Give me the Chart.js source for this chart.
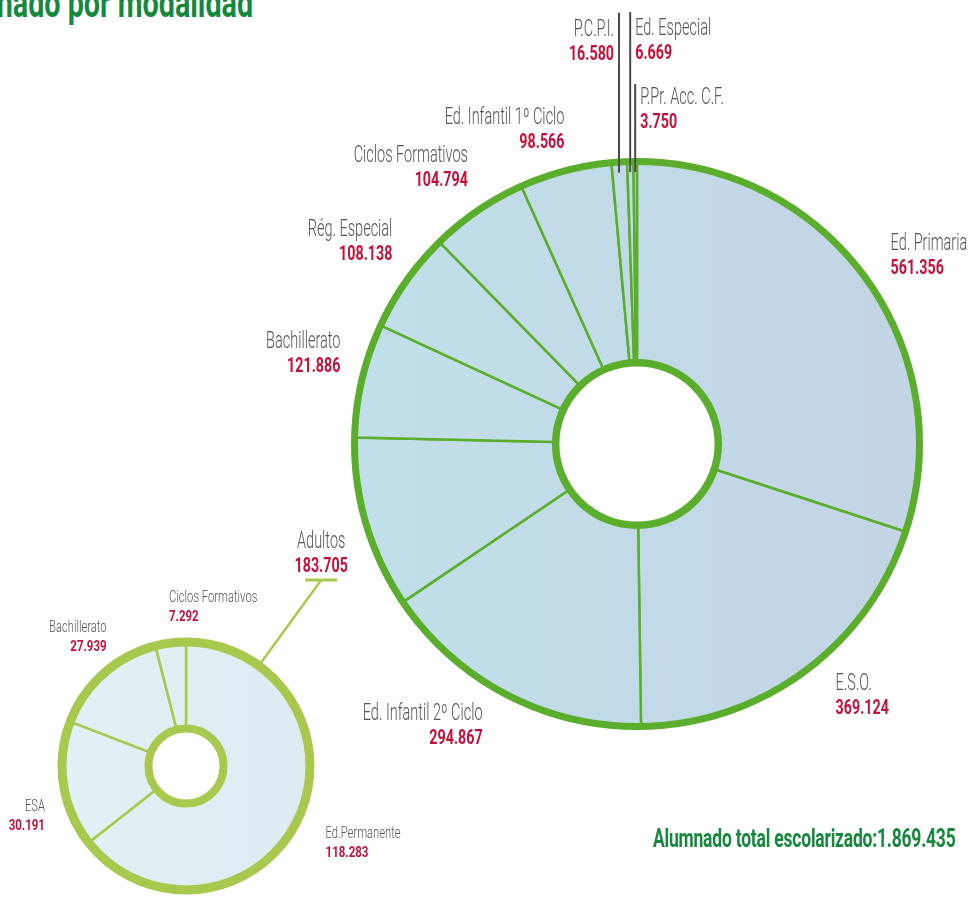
<!DOCTYPE html>
<html>
<head>
<meta charset="utf-8">
<script src="https://cdn.jsdelivr.net/npm/chart.js@4.4.1/dist/chart.umd.min.js"></script>
<style>
  body { margin: 0; background: #fff; width: 969px; height: 898px; overflow: hidden; position: relative;
         font-family: Roboto, sans-serif; }
  canvas { position: absolute; left: 0; top: 0; }
  #title { position: absolute; right: 716px; top: -17px; color: #16883d; font-weight: bold; font-size: 41px;
           line-height: 41px; white-space: nowrap; transform: scaleX(0.7); transform-origin: right top; }
  #total { position: absolute; left: 653px; top: 826px; color: #16883d; font-weight: bold; font-size: 25px;
           line-height: 25px; white-space: nowrap; transform: scaleX(0.7); transform-origin: left top;
           letter-spacing: -0.3px; }
</style>
</head>
<body>
<div id="title">Alumnado por modalidad</div>
<canvas id="grande" width="969" height="898"></canvas>
<canvas id="adultos" width="969" height="898"></canvas>
<div id="total"></div>
<script>
// datos
const modalidades = ["Ed. Primaria", "E.S.O.", "Ed. Infantil 2º Ciclo", "Adultos", "Bachillerato", "Rég. Especial",
                     "Ciclos Formativos", "Ed. Infantil 1º Ciclo", "P.C.P.I.", "Ed. Especial", "P.Pr. Acc. C.F."];
const alumnos = [561356, 369124, 294867, 183705, 121886, 108138, 104794, 98566, 16580, 6669, 3750];

const tiposAdultos = ["Ed.Permanente", "ESA", "Bachillerato", "Ciclos Formativos"];
const alumnosAdultos = [118283, 30191, 27939, 7292];

// label placement: offset of the name baseline from the arc's outer point, alignment, optional leader line
const etiquetasGrande = [
    { dx: 22, dy: -26, align: "left" },
    { dx: 29, dy: 16, align: "left" },
    { dx: -22, dy: 22, align: "right" },
    null, // Adultos goes with the small chart
    { dx: -18, dy: -31, align: "right" },
    { dx: -11, dy: -43, align: "right" },
    { dx: -8, dy: -46, align: "right" },
    { dx: 0, dy: -43, align: "right" },
    { dx: -5, dy: -123, align: "right", leader: -146 },
    { dx: 5, dy: -123, align: "left", leader: -146 },
    { dx: 5, dy: -54, align: "left", leader: -74 }
];
const etiquetasAdultos = [
    { dx: 24, dy: 16, align: "left" },
    { dx: -14, dy: 26, align: "right" },
    { dx: 6, dy: -38, align: "right" },
    { dx: -1, dy: -36, align: "left" }
];

function formato(n) {
    return String(n).replace(/\B(?=(\d{3})+(?!\d))/g, ".");
}

function gradiente(chart, c1, c2) {
    const area = chart.chartArea;
    if (!area) return c1;
    const g = chart.ctx.createLinearGradient(area.left, 0, area.right, 0);
    g.addColorStop(0, c1);
    g.addColorStop(1, c2);
    return g;
}

function puntoArco(arc, r) {
    const p = arc.getProps(["x", "y", "startAngle", "endAngle"], true);
    const mid = (p.startAngle + p.endAngle) / 2;
    return { x: p.x + r * Math.cos(mid), y: p.y + r * Math.sin(mid) };
}

// condensed text: the installed fonts have no narrow cut, so squeeze horizontally
function texto(ctx, str, x, y, align, font, sx, color) {
    ctx.save();
    ctx.translate(x, y);
    ctx.scale(sx, 1);
    ctx.font = font;
    ctx.textAlign = align;
    ctx.textBaseline = "alphabetic";
    ctx.fillStyle = color;
    ctx.fillText(str, 0, 0);
    ctx.restore();
}

// draws the thick rings, the labels and the leader lines
function pluginEtiquetas(cfg) {
    return {
        id: "etiquetas",
        afterDatasetsDraw(chart) {
            const ctx = chart.ctx;
            const meta = chart.getDatasetMeta(0);
            const a0 = meta.data[0].getProps(["x", "y", "outerRadius", "innerRadius"], true);
            ctx.save();
            ctx.strokeStyle = cfg.ring;
            ctx.lineWidth = cfg.outerWidth;
            ctx.beginPath();
            ctx.arc(a0.x, a0.y, a0.outerRadius, 0, Math.PI * 2);
            ctx.stroke();
            ctx.lineWidth = cfg.innerWidth;
            ctx.beginPath();
            ctx.arc(a0.x, a0.y, a0.innerRadius, 0, Math.PI * 2);
            ctx.stroke();

            const edge = a0.outerRadius + cfg.outerWidth / 2;
            const labels = chart.data.labels;
            const values = chart.data.datasets[0].data;
            for (let i = 0; i < labels.length; i++) {
                const lay = cfg.layout[i];
                if (!lay) continue;
                const p = puntoArco(meta.data[i], edge);
                if (lay.leader) {
                    ctx.strokeStyle = "#4a4a4a";
                    ctx.lineWidth = 2;
                    ctx.beginPath();
                    ctx.moveTo(p.x, p.y + 14);
                    ctx.lineTo(p.x, p.y + lay.leader);
                    ctx.stroke();
                }
                texto(ctx, labels[i], p.x + lay.dx, p.y + lay.dy, lay.align, cfg.nameFont, cfg.nameScale, "#555555");
                texto(ctx, formato(values[i]), p.x + lay.dx, p.y + lay.dy + cfg.gap, lay.align,
                      cfg.valueFont, cfg.valueScale, "#c4113a");
            }

            if (cfg.titulo) {
                // leader from the small chart up to its title (Adultos)
                const ang = cfg.titulo.angle * Math.PI / 180;
                const ex = a0.x + cfg.titulo.r * Math.sin(ang);
                const ey = a0.y - cfg.titulo.r * Math.cos(ang);
                ctx.strokeStyle = cfg.ring;
                ctx.lineWidth = 2.5;
                ctx.beginPath();
                ctx.moveTo(a0.x + edge * Math.sin(ang), a0.y - edge * Math.cos(ang));
                ctx.lineTo(ex, ey);
                ctx.stroke();
                ctx.lineWidth = 3;
                ctx.beginPath();
                ctx.moveTo(ex - 16, ey);
                ctx.lineTo(ex + 16, ey);
                ctx.stroke();
                const total = values.reduce((s, v) => s + v, 0);
                texto(ctx, cfg.titulo.text, ex, ey - 32, "center", "300 23px Roboto", 0.63, "#555555");
                texto(ctx, formato(total), ex, ey - 8, "center", "bold 21px Roboto", 0.68, "#c4113a");
            }
            ctx.restore();
        }
    };
}

const grande = new Chart(document.getElementById("grande"), {
    type: "doughnut",
    data: {
        labels: modalidades,
        datasets: [{
            data: alumnos,
            radius: 282.5,
            cutout: 86,
            backgroundColor: (c) => gradiente(c.chart, "#c0e0e9", "#c3d4e5"),
            borderColor: "#5aae2b",
            borderWidth: 2.5
        }]
    },
    options: {
        responsive: false,
        animation: false,
        events: [],
        layout: { padding: { left: 337, right: 32, top: 144, bottom: 154 } },
        plugins: { legend: { display: false }, tooltip: { enabled: false } }
    },
    plugins: [pluginEtiquetas({
        layout: etiquetasGrande, ring: "#5aae2b", outerWidth: 7, innerWidth: 7.5, gap: 24,
        nameFont: "300 23px Roboto", nameScale: 0.63, valueFont: "bold 21px Roboto", valueScale: 0.68
    })]
});

const adultos = new Chart(document.getElementById("adultos"), {
    type: "doughnut",
    data: {
        labels: tiposAdultos,
        datasets: [{
            data: alumnosAdultos,
            radius: 124,
            cutout: 39,
            backgroundColor: (c) => gradiente(c.chart, "#e3f0f5", "#e1eaf2"),
            borderColor: "#a8c94e",
            borderWidth: 2.5
        }]
    },
    options: {
        responsive: false,
        animation: false,
        events: [],
        layout: { padding: { left: 56, right: 653, top: 636, bottom: 2 } },
        plugins: { legend: { display: false }, tooltip: { enabled: false } }
    },
    plugins: [pluginEtiquetas({
        layout: etiquetasAdultos, ring: "#a8c94e", outerWidth: 9, innerWidth: 8, gap: 19,
        nameFont: "300 16px Roboto", nameScale: 0.7, valueFont: "bold 14px Roboto", valueScale: 0.82,
        titulo: { text: modalidades[3], angle: 36, r: 230 }
    })]
});

document.getElementById("total").textContent =
    "Alumnado total escolarizado:" + formato(alumnos.reduce((s, v) => s + v, 0));
</script>
</body>
</html>
